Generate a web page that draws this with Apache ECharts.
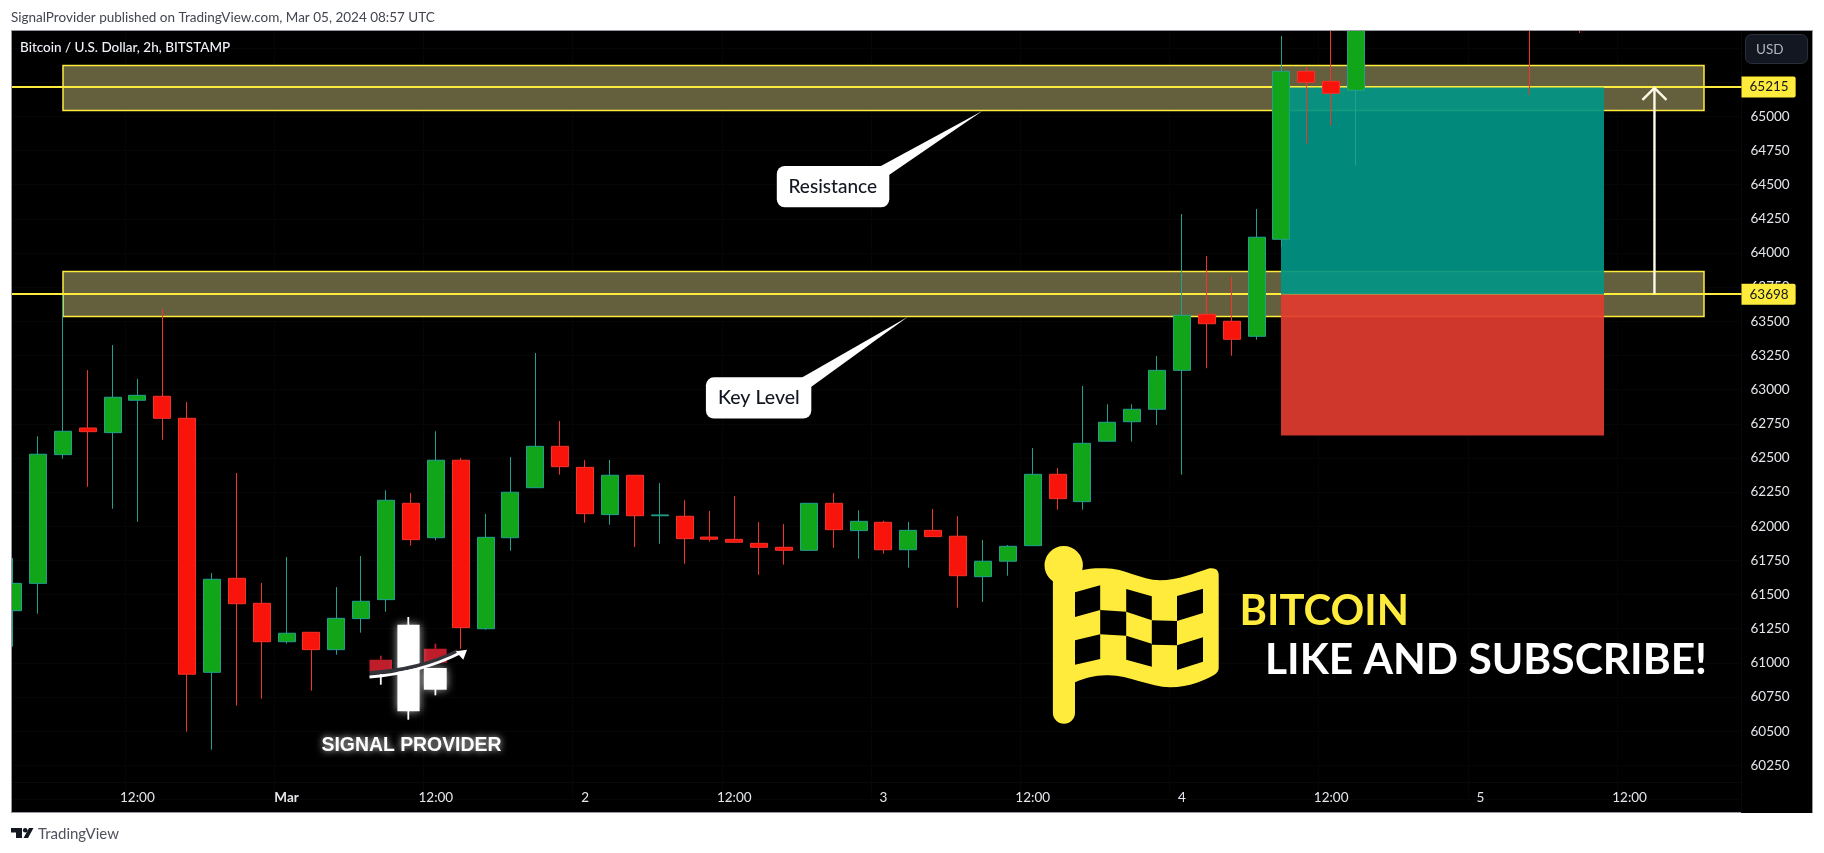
<!DOCTYPE html>
<html>
<head>
<meta charset="utf-8">
<style>html,body{margin:0;padding:0;background:#fff}#c{width:1824px;height:853px}</style>
<script src="https://cdn.jsdelivr.net/npm/echarts@6/dist/echarts.min.js"></script>
</head>
<body>
<div id="c"></div>
<script>
// open, close, low, high for each 2h bar; null = bar lies above the visible range
const ohlc = [
[61382,61582,61119,61768],[61582,62527,61360,62658],[62524,62695,62494,63692],[62719,62692,62289,63143],
[62685,62944,62128,63326],[62922,62958,62033,63078],[62951,62790,62633,63590],[62790,60917,60497,62909],
[60931,61612,60365,61658],[61619,61433,60687,62390],[61436,61155,60738,61585],[61155,61217,61141,61775],
[61224,61097,60797,61226],[61097,61326,61060,61555],[61324,61451,61221,61782],[61463,62190,61375,62263],
[62168,61902,61858,62243],[61916,62483,61897,62695],[62483,61258,61102,62500],[61250,61919,61243,62090],
[61916,62249,61821,62507],[62282,62585,62280,63268],[62585,62436,62377,62770],[62431,62092,62026,62483],
[62085,62373,62011,62485],[62373,62077,61848,62375],[62077,62083,61872,62316],[62073,61909,61726,62190],
[61921,61905,61887,62112],[61904,61883,61880,62221],[61875,61846,61645,62031],[61846,61824,61719,62016],
[61824,62168,61824,62168],[62168,61975,61843,62243],[61968,62036,61763,62117],[62029,61828,61799,62040],
[61828,61970,61697,62031],[61970,61924,61924,62126],[61927,61638,61404,62073],[61631,61744,61446,61899],
[61744,61853,61638,61863],[61858,62380,61855,62573],[62380,62202,62121,62426],[62180,62607,62121,63026],
[62622,62761,62620,62892],[62765,62856,62619,62892],[62856,63141,62741,63246],[63141,63544,62377,64285],
[63551,63482,63156,63978],[63500,63368,63248,63824],[63390,64115,63365,64322],[64100,65329,64046,65588],
[65329,65249,64800,65359],[65256,65168,64931,65700],[65190,65700,64639,65720],
null,null,null,null,null,null,
[65745,65700,65158,65750],null,[65745,65700,65610,65750],null,null,null,null,null,null
];
const tickLabels = ['', '', '', '', '', '12:00', '', '', '', '', '', 'Mar', '', '', '', '', '', '12:00', '', '', '', '', '', '2', '', '', '', '', '', '12:00', '', '', '', '', '', '3', '', '', '', '', '', '12:00', '', '', '', '', '', '4', '', '', '', '', '', '12:00', '', '', '', '', '', '5', '', '', '', '', '', '12:00', '', '', '', ''];
const hiddenPriceLabels = [60000, 65250, 65500, 65750];
const priceLines = [65215, 63698];
const resistanceBox = [2, 68, 65373, 65044];
const keyLevelBox = [2, 68, 63866, 63536];
const targetZone = [51, 64, 65215, 63698];
const stopZone = [51, 64, 63698, 62663];
const moveArrow = [66, 63698, 65215];

const FONT = 'Lato, "Noto Sans", sans-serif';
const AXIS_TEXT = '#e4e6eb';
const YEL = '#ffeb3b';

echarts.graphic.registerShape('flagBody', echarts.graphic.extendPath('M1075 573 C1085 568 1095 568 1104 568.3 C1125 568 1140 580 1160 580.3 C1178 580 1195 573 1208 568.7 C1215 567 1218.7 570 1218.7 575 L1218.7 668 Q1218.7 672 1214 675 C1205 680 1190 687.3 1170 687.3 C1150 687 1128 675 1108 675.3 C1095 675 1085 678 1075 682.3 Z', {}));
echarts.graphic.registerShape('logoCurveDark', echarts.graphic.extendPath('M369.5 673 Q420 670 458 651', {}));
echarts.graphic.registerShape('logoCurveLight', echarts.graphic.extendPath('M369.5 677 Q420 673 460 653', {}));

function poly(points, fill, z) {
  return { type: 'polygon', z: z, silent: true, shape: { points: points }, style: { fill: fill } };
}
function rect(x, y, w, h, fill, z, r, extra) {
  return { type: 'rect', z: z, silent: true, shape: { x: x, y: y, width: w, height: h, r: r || 0 }, style: Object.assign({ fill: fill }, extra || {}) };
}
function txt(x, y, text, font, fill, z, extra) {
  return { type: 'text', z: z, silent: true, x: x, y: y, style: Object.assign({ text: text, font: font, fill: fill, textVerticalAlign: 'middle', verticalAlign: 'middle' }, extra || {}) };
}

const flagHoles = [
 [[1075,592.3],[1100.2,585.3],[1100.2,610],[1075,617]],
 [[1100.2,610],[1126.2,611.7],[1126.2,635.7],[1100.2,634.3]],
 [[1126.2,589],[1151.8,596.3],[1151.8,620.3],[1126.2,611.7]],
 [[1151.8,620.3],[1177,621],[1177,645.3],[1151.8,644.7]],
 [[1177,596],[1203,588.7],[1203,613],[1177,621]],
 [[1075,640.3],[1100.2,634.3],[1100.2,659],[1075,664.7]],
 [[1126.2,635.7],[1151.8,643.7],[1151.8,666.7],[1126.2,659.7]],
 [[1177,645.3],[1203,637.3],[1203,661.7],[1177,670]]
];

const decor = [
  // frame
  rect(0, 0, 1824, 30, '#ffffff', 50),
  rect(0, 0, 11, 853, '#ffffff', 50),
  rect(0, 813, 1824, 40, '#ffffff', 50),
  rect(1813, 0, 11, 853, '#ffffff', 50),
  rect(11, 30, 1730, 1, '#9598a1', 51),
  rect(1741, 30, 72, 1, '#9598a1', 51),
  rect(11, 30, 1, 783, '#9598a1', 51),
  rect(11, 812, 1730, 1, '#9598a1', 51),
  rect(1812, 30, 1, 783, '#9598a1', 51),
  rect(12, 782, 1729, 1, '#090909', 1),
  rect(1741, 31, 1, 781, '#090909', 1),
  txt(11, 17.5, 'SignalProvider published on TradingView.com, Mar 05, 2024 08:57 UTC', '13.5px ' + FONT, '#434651', 52),
  txt(20, 47.5, 'Bitcoin / U.S. Dollar, 2h, BITSTAMP', '500 13.5px ' + FONT, '#f0f3fa', 52),
  // USD button
  rect(1745.5, 34.5, 62, 29, '#131722', 52, 6, { stroke: '#2a2e39', lineWidth: 1 }),
  txt(1756, 49.5, 'USD', '13.5px ' + FONT, '#b2b5be', 53),
  // callouts
  poly([[880,166.5],[889,175],[982.7,110.7]], '#ffffff', 20),
  rect(776.8, 166, 112.5, 41.3, '#ffffff', 20, 8),
  txt(788.5, 186.5, 'Resistance', '500 19px ' + FONT, '#131722', 21),
  poly([[801.6,377.8],[811,387],[908,316.7]], '#ffffff', 20),
  rect(705.9, 377.3, 105.4, 41.3, '#ffffff', 20, 8),
  txt(718, 397.5, 'Key Level', '500 19.5px ' + FONT, '#131722', 21),
  // signal provider logo
  rect(369.5, 659.7, 22.5, 11.6, '#c01d2b', 20),
  rect(423.8, 648.7, 22.9, 14, '#c01d2b', 20),
  rect(379.9, 655.7, 1.8, 4, '#c01d2b', 20),
  rect(434.5, 643.7, 1.8, 5, '#c01d2b', 20),
  rect(379.9, 672, 1.8, 12.7, '#ffffff', 20),
  rect(423.8, 668, 22.9, 21.7, '#ffffff', 20, 0, { shadowBlur: 9, shadowColor: 'rgba(255,255,255,.7)' }),
  rect(434.5, 689, 1.8, 6.3, '#ffffff', 20),
  rect(397.4, 624.7, 22.2, 86.6, '#ffffff', 20, 0, { shadowBlur: 9, shadowColor: 'rgba(255,255,255,.7)' }),
  rect(407.4, 617, 1.8, 102.7, '#ffffff', 20),
  { type: 'logoCurveDark', z: 21, silent: true, style: { fill: 'none', stroke: '#33343a', lineWidth: 4 } },
  { type: 'logoCurveLight', z: 22, silent: true, style: { fill: 'none', stroke: '#ffffff', lineWidth: 3 } },
  poly([[467,649.7],[455.6,651.3],[463.3,659.7]], '#ffffff', 22),
  txt(321.5, 746, 'SIGNAL PROVIDER', 'bold 19.4px "Liberation Sans", Arial, sans-serif', '#ffffff', 22, { textShadowBlur: 7, textShadowColor: 'rgba(255,255,255,.9)' }),
  // flag
  rect(1052.9, 565, 22.1, 158.7, YEL, 20, 11),
  { type: 'circle', z: 20, silent: true, shape: { cx: 1063.7, cy: 565.3, r: 19.2 }, style: { fill: YEL } },
  { type: 'flagBody', z: 20, silent: true, style: { fill: YEL } }
].concat(flagHoles.map(function (h) { return poly(h, '#000000', 21); })).concat([
  txt(1239.5, 612, 'BITCOIN', 'bold 41.8px ' + FONT, YEL, 22),
  txt(1265, 660, 'LIKE AND SUBSCRIBE!', 'bold 42.5px ' + FONT, '#ffffff', 22),
  // footer logo
  poly([[11,828],[22,828],[22,838],[16,838],[16,832.5],[11,832.5]], '#131722', 52),
  { type: 'circle', z: 52, silent: true, shape: { cx: 25.2, cy: 830.3, r: 2.3 }, style: { fill: '#131722' } },
  poly([[29,828],[33.5,828],[28,838],[23.5,838]], '#131722', 52),
  txt(38, 834, 'TradingView', '15px ' + FONT, '#50535e', 52)
]);

function zoneSeries(name, box, fill, stroke, z) {
  return {
    name: name, type: 'custom', z: z, silent: true, clip: false, data: [box],
    encode: { x: [0, 1], y: [2, 3] },
    renderItem: function (params, api) {
      const a = api.coord([api.value(0), api.value(2)]);
      const b = api.coord([api.value(1), api.value(3)]);
      return { type: 'rect', shape: { x: Math.round(a[0]), y: Math.round(a[1]) + 0.5, width: Math.round(b[0] - a[0]), height: Math.round(b[1] - a[1]) },
        style: { fill: fill, stroke: stroke, lineWidth: stroke ? 1.5 : 0 } };
    }
  };
}

const chart = echarts.init(document.getElementById('c'), null, { renderer: 'canvas' });
chart.setOption({
  animation: false,
  backgroundColor: '#000000',
  graphic: { elements: decor },
  grid: { left: 0.6, top: 13.81, width: 1740.9, height: 785.74, containLabel: false },
  xAxis: {
    type: 'category', data: tickLabels.map(function (t, i) { return i + ''; }),
    boundaryGap: true,
    axisLine: { show: false }, axisTick: { show: false },
    axisLabel: {
      margin: -9, color: AXIS_TEXT, fontFamily: FONT, fontSize: 13.5, hideOverlap: false,
      interval: function (i) { return tickLabels[i] !== ''; },
      formatter: function (v, i) { return tickLabels[i] === 'Mar' ? '{b|Mar}' : tickLabels[i]; },
      rich: { b: { fontWeight: 'bold', color: AXIS_TEXT, fontFamily: FONT, fontSize: 13.5 } }
    },
    splitLine: { show: true, lineStyle: { color: '#060606' }, interval: function (i) { return tickLabels[i] !== ''; } }
  },
  yAxis: {
    type: 'value', position: 'right', min: 60000, max: 65750, interval: 250, scale: true,
    axisLine: { show: false }, axisTick: { show: false },
    axisLabel: {
      margin: 9, color: AXIS_TEXT, fontFamily: FONT, fontSize: 13.5,
      showMinLabel: true, showMaxLabel: true,
      formatter: function (v) { return hiddenPriceLabels.indexOf(v) >= 0 ? '' : String(v); }
    },
    splitLine: { show: true, lineStyle: { color: '#060606' } }
  },
  series: [
    zoneSeries('Resistance', resistanceBox, '#645f3c', YEL, 3),
    zoneSeries('Key Level', keyLevelBox, '#645f3c', YEL, 3),
    {
      name: 'Levels', type: 'line', z: 4, data: [], symbol: 'none', silent: true,
      markLine: {
        silent: true, symbol: 'none', animation: false,
        lineStyle: { color: YEL, width: 2, type: 'solid' },
        label: {
          show: true, position: 'end', distance: 0, formatter: '{c}', color: '#131722',
          backgroundColor: YEL, fontFamily: FONT, fontSize: 13.5, padding: [4, 7, 3, 8], borderRadius: [0, 2, 2, 0]
        },
        data: priceLines.map(function (p) { return { yAxis: p }; })
      }
    },
    zoneSeries('Target', targetZone, 'rgba(1,149,134,.92)', null, 5),
    zoneSeries('Stop', stopZone, 'rgba(225,60,48,.92)', null, 5),
    {
      name: 'Move', type: 'custom', z: 6, silent: true, clip: false, data: [moveArrow],
      encode: { x: 0, y: [1, 2] },
      renderItem: function (params, api) {
        const a = api.coord([api.value(0), api.value(1)]);
        const b = api.coord([api.value(0), api.value(2)]);
        const s = { stroke: '#fffbe8', lineWidth: 2.4, fill: null };
        return { type: 'group', children: [
          { type: 'line', shape: { x1: a[0], y1: a[1], x2: b[0], y2: b[1] }, style: s },
          { type: 'polyline', shape: { points: [[b[0] - 12, b[1] + 13], [b[0], b[1] + 1], [b[0] + 12, b[1] + 13]] }, style: s }
        ] };
      }
    },
    {
      name: 'BTCUSD', type: 'candlestick', z: 8, barWidth: 17.5, silent: true,
      data: ohlc.map(function (d) { return d || ['-', '-', '-', '-']; }),
      itemStyle: {
        color: '#11a61a', color0: '#f8130b',
        borderColor: '#22a08f', borderColor0: '#f5332b', borderColorDoji: '#22a08f', borderWidth: 1
      }
    }
  ]
});
</script>
</body>
</html>
